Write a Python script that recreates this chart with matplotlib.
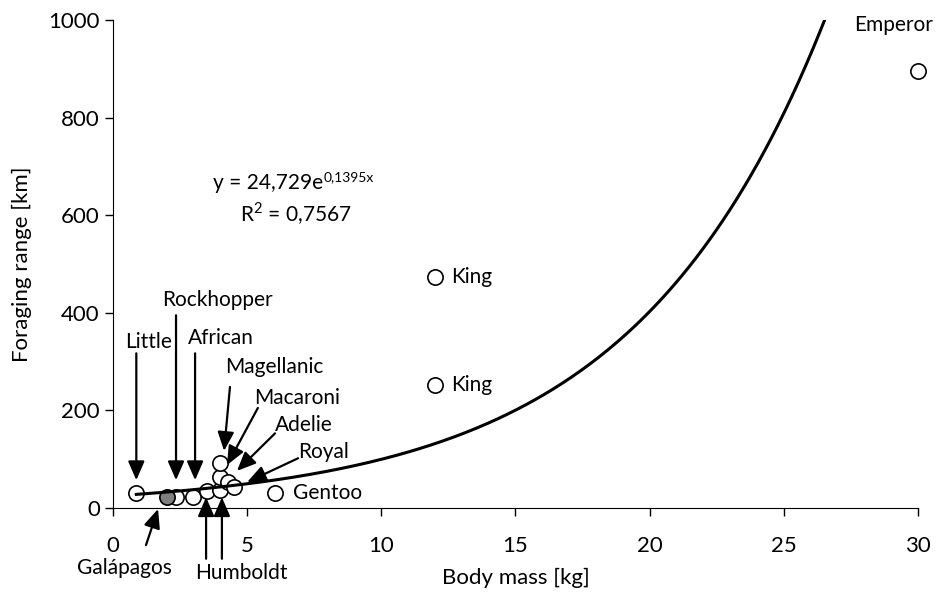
import matplotlib
matplotlib.use('Agg')
import matplotlib.pyplot as plt
import numpy as np

plt.rcParams['font.family'] = ['Lato', 'DejaVu Sans']
plt.rcParams['mathtext.fontset'] = 'custom'
plt.rcParams['mathtext.rm'] = 'Lato'

# body mass [kg] and foraging range [km]
mass = [0.87, 2.35, 3.0, 3.52, 4.0, 4.0, 4.0, 4.3, 4.5, 6.04, 12, 12, 30]
forage = [31, 22, 23, 34, 37, 64, 92, 54, 43, 31, 252, 473, 895]
galap_mass = [2.03]
galap_forage = [23]

# exponential trendline
A = 24.729
B = 0.1395

# labels with arrows: (text, text x, text y, arrow start, arrow tip)
arrow_labels = [
    ('Little', 1.32, 340, (0.87, 317), (0.87, 57)),
    ('Rockhopper', 3.88, 426, (2.35, 395), (2.35, 57)),
    ('African', 4.03, 348, (3.06, 317), (3.06, 57)),
    ('Magellanic', 6.0, 289, (4.36, 248), (4.14, 117)),
    ('Macaroni', 6.86, 225, (5.4, 205), (4.25, 88)),
    ('Adelie', 7.12, 170, (6.04, 153), (4.62, 76)),
    ('Royal', 7.83, 115, (6.9, 102), (5.0, 53)),
    ('Galápagos', 0.41, -123, (1.23, -76), (1.68, -2)),
    ('Humboldt', 4.8, -133, (3.47, -104), (3.47, 22)),
]
extra_arrows = [((4.06, -104), (4.06, 22))]

# plain labels next to points
plain_labels = [('Gentoo', 6.7, 31), ('King', 12.6, 473), ('King', 12.6, 252)]

FS = 15

fig = plt.figure(figsize=(9.36, 5.99), dpi=100)
ax = fig.add_axes([0.1207, 0.1519, 0.86, 0.8147])

xs = np.linspace(mass[0], np.log(1000 / A) / B, 300)
ax.plot(mass, forage, 'o', ms=11, mfc='white', mec='black', mew=1.2, zorder=3, clip_on=False)
ax.plot(galap_mass, galap_forage, 'o', ms=11, mfc='#7f7f7f', mec='black', mew=1.2, zorder=3)
ax.plot(xs, A * np.exp(B * xs), color='black', lw=2.2, zorder=4)

arrowprops = dict(arrowstyle='-|>,head_length=1.15,head_width=0.5', mutation_scale=10,
                  lw=1.6, color='black', shrinkA=0, shrinkB=0)
for txt, tx, ty, start, tip in arrow_labels:
    ax.text(tx, ty, txt, ha='center', va='center', fontsize=FS, clip_on=False)
    ax.annotate('', xy=tip, xytext=start, arrowprops=arrowprops, annotation_clip=False, zorder=5)
for start, tip in extra_arrows:
    ax.annotate('', xy=tip, xytext=start, arrowprops=arrowprops, annotation_clip=False, zorder=5)
for txt, tx, ty in plain_labels:
    ax.text(tx, ty, txt, ha='left', va='center', fontsize=FS)
ax.text(29.1, 990, 'Emperor', ha='center', va='center', fontsize=FS, clip_on=False)

# trendline equation, exponent as its own small text
eq = ax.text(7.83, 667, 'y = 24,729e', ha='right', va='center', fontsize=FS)
ax.annotate('0,1395x', xy=(1, 1), xycoords=eq, xytext=(0.5, -3), textcoords='offset points',
            ha='left', va='center', fontsize=10)
ax.text(6.8, 604, r'R$^{\mathregular{2}}$ = 0,7567', ha='center', va='center', fontsize=FS)

ax.set_xlim(0, 30)
ax.set_ylim(0, 1000)
ax.set_xticks(range(0, 31, 5))
ax.set_yticks(range(0, 1001, 200))
ax.spines['top'].set_visible(False)
ax.spines['right'].set_visible(False)
ax.tick_params(direction='out', length=6, width=1, labelsize=16)
ax.tick_params(axis='x', pad=14)
ax.set_xlabel('Body mass [kg]', fontsize=16, labelpad=9)
ax.set_ylabel('Foraging range [km]', fontsize=16, labelpad=12)

fig.savefig('out.png', dpi=100)
